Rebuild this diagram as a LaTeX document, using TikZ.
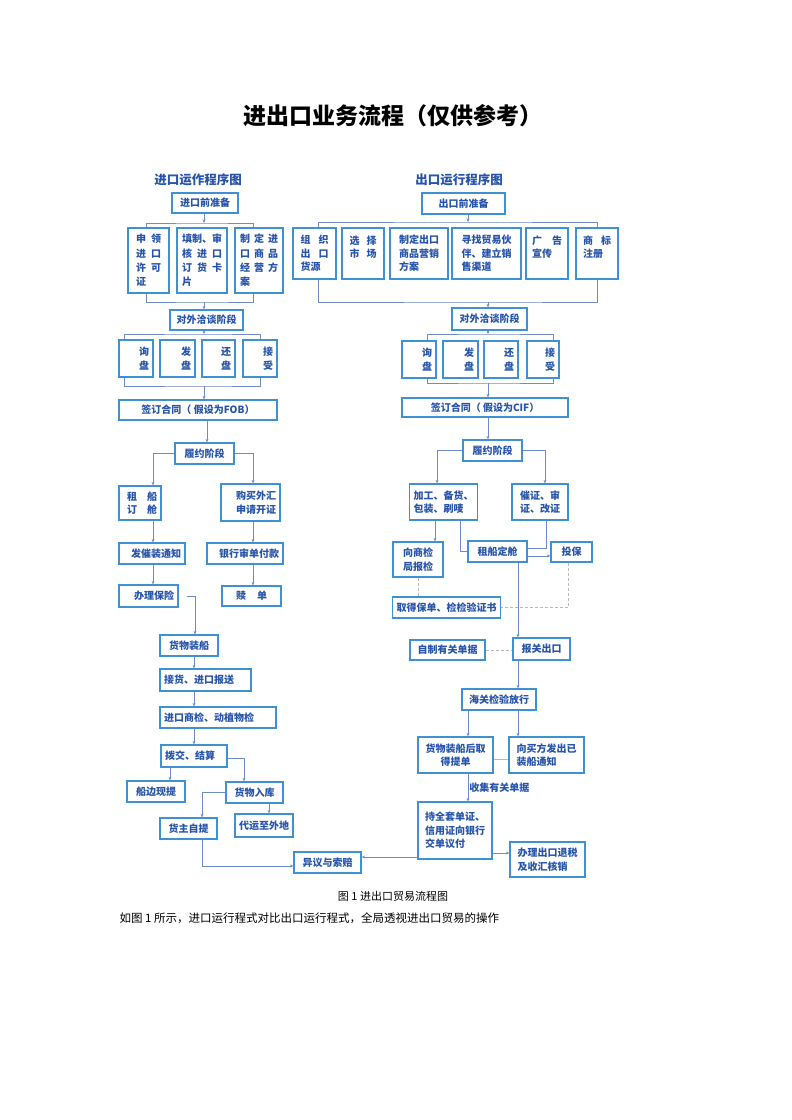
\documentclass[tikz,border=0pt]{standalone}
\usepackage{fontspec}
\setmainfont{Noto Sans CJK SC}
\usetikzlibrary{arrows.meta}
\definecolor{boxblue}{RGB}{62,146,212}
\definecolor{txtblue}{RGB}{38,84,170}
\definecolor{lineblue}{RGB}{110,140,200}
\definecolor{dashgray}{RGB}{185,185,185}
\begin{document}
\begin{tikzpicture}[x=1pt, y=-1pt,
    box/.style={draw=boxblue, line width=1.3pt, fill=white, text=txtblue, inner xsep=4pt, inner ysep=1pt, font=\fontsize{10}{13.5}\selectfont\bfseries},
    tall/.style={font=\fontsize{10}{14.3}\selectfont\bfseries},
    conn/.style={draw=lineblue, line width=0.7pt},
    arr/.style={conn, -{Stealth[length=3.5pt, width=3pt]}},
    dsh/.style={draw=dashgray, line width=0.7pt, dash pattern=on 3pt off 2pt},
    head/.style={text=txtblue, font=\fontsize{12.5}{15}\selectfont\bfseries},
    lbl/.style={text=txtblue, inner sep=1pt, font=\fontsize{10}{12}\selectfont\bfseries}]
    \fill[white] (0,0) rectangle (792,1120);
    \useasboundingbox (0,0) rectangle (792,1120);
    \node[font=\fontsize{23}{28}\selectfont\bfseries] (title) at (392.5,116) {进出口业务流程（仅供参考）};
    % left: import
    \node[head] (lhead) at (198,180) {进口运作程序图};
    \node[box, minimum width=66, minimum height=20] (ljqzb) at (205,203) {进口前准备};
    \node[box, tall, minimum width=41, minimum height=65, align=left] (lsq) at (148.5,260.5) {申\hspace{5pt}领\\进\hspace{5pt}口\\许\hspace{5pt}可\\证};
    \node[box, tall, minimum width=50, minimum height=65, align=left] (ltz) at (202,260.5) {填制、审\\核\hspace{5pt}进\hspace{5pt}口\\订\hspace{5pt}货\hspace{5pt}卡\\片};
    \node[box, tall, minimum width=48, minimum height=65, align=left] (lzd) at (259,260.5) {制\hspace{4pt}定\hspace{4pt}进\\口\hspace{4pt}商\hspace{4pt}品\\经\hspace{4pt}营\hspace{4pt}方\\案};
    \node[box, minimum width=73, minimum height=20] (lwt) at (206.5,320) {对外洽谈阶段};
    \node[box, minimum height=37, text width=26, align=right] (lxp) at (136,358.5) {询\\盘};
    \node[box, minimum height=37, text width=27, align=right] (lfp) at (177.5,358.5) {发\\盘};
    \node[box, minimum height=37, text width=25, align=right] (lhp) at (218.5,358.5) {还\\盘};
    \node[box, minimum height=37, text width=26, align=right] (ljs) at (260,358.5) {接\\受};
    \node[box, minimum width=158, minimum height=20] (lqd) at (198,410) {签订合同（ 假设为FOB）};
    \node[box, minimum width=59, minimum height=21] (lly) at (204.5,453.5) {履约阶段};
    \node[box, minimum height=34, text width=34, align=right] (lzc) at (140,503) {租\hspace{10pt}船\\订\hspace{10pt}舱};
    \node[box, minimum height=37, text width=51, align=right] (lgm) at (250.5,502.5) {购买外汇\\申请开证};
    \node[box, minimum height=21, text width=58, align=right] (lfc) at (152,553.5) {发催装通知};
    \node[box, minimum height=21, text width=68, align=right] (lyh) at (245,553.5) {银行审单付款};
    \node[box, minimum height=22, text width=51, align=right] (lbx) at (148.5,596) {办理保险};
    \node[box, minimum width=59, minimum height=20] (lsd) at (251.5,596) {赎\hspace{11pt}单};
    \node[box, minimum width=58, minimum height=21] (lzy) at (189,645.5) {货物装船};
    \node[box, minimum height=22, text width=83, align=left] (ljh) at (205.5,680) {接货、进口报送};
    \node[box, minimum height=21, text width=108, align=left] (ljy) at (218,717.5) {进口商检、动植物检};
    \node[box, minimum height=22, text width=58, align=left] (lbj) at (194,756) {拨交、结算};
    \node[box, minimum width=58, minimum height=21] (lcb) at (156,791.5) {船边现提};
    \node[box, minimum width=57, minimum height=21] (lrk) at (254.5,792.5) {货物入库};
    \node[box, minimum width=57, minimum height=21] (lzt) at (188.5,828.5) {货主自提};
    \node[box, minimum width=58, minimum height=23] (ldy) at (264,825.5) {代运至外地};
    \node[box, minimum width=67, minimum height=21] (lyy) at (327.5,862.5) {异议与索赔};
    % right: export
    \node[head] (rhead) at (459,180) {出口运行程序图};
    \node[box, minimum width=83, minimum height=21] (rjqzb) at (463.5,203.5) {出口前准备};
    \node[box, minimum width=43, minimum height=51, align=left] (rzz) at (314.5,253.5) {组\hspace{8pt}织\\出\hspace{8pt}口\\货源};
    \node[box, minimum width=42, minimum height=51, align=left] (rxz) at (363,253.5) {选\hspace{7pt}择\\市\hspace{7pt}场\\\mbox{}};
    \node[box, minimum width=58, minimum height=51, align=left] (rzd) at (419,253.5) {制定出口\\商品营销\\方案};
    \node[box, minimum width=69, minimum height=51, align=left] (rxh) at (486.5,253.5) {寻找贸易伙\\伴、建立销\\售渠道};
    \node[box, minimum width=42, minimum height=51, align=left] (rgg) at (547,253.5) {广\hspace{10pt}告\\宣传\\\mbox{}};
    \node[box, minimum width=42, minimum height=51, align=left] (rsb) at (597,253.5) {商\hspace{8pt}标\\注册\\\mbox{}};
    \node[box, minimum width=75, minimum height=22] (rwt) at (489.5,319) {对外洽谈阶段};
    \node[box, minimum height=37, text width=26, align=right] (rxp) at (419,359.5) {询\\盘};
    \node[box, minimum height=37, text width=27, align=right] (rfp) at (460.5,359.5) {发\\盘};
    \node[box, minimum height=37, text width=26, align=right] (rhp) at (501,359.5) {还\\盘};
    \node[box, minimum height=37, text width=24, align=right] (rjs) at (543,359.5) {接\\受};
    \node[box, minimum width=166, minimum height=19] (rqd) at (485,407.5) {签订合同（ 假设为CIF）};
    \node[box, minimum width=59, minimum height=21] (rly) at (492.5,450.5) {履约阶段};
    \node[box, minimum width=67, minimum height=36, align=left] (rjg) at (443.5,502) {加工、备货、\\包装、刷唛};
    \node[box, minimum width=56, minimum height=36, align=left] (rcz) at (540,502) {催证、审\\证、改证};
    \node[box, minimum width=50, minimum height=35, align=center] (rsj) at (418,559.5) {向商检\\局报检};
    \node[box, minimum width=59, minimum height=21] (rzc) at (497.5,551.5) {租船定舱};
    \node[box, minimum width=41, minimum height=20] (rtb) at (571.5,552) {投保};
    \node[box, minimum width=107, minimum height=21] (rqb) at (446.5,607.5) {取得保单、检检验证书};
    \node[box, minimum width=57, minimum height=22] (rbg) at (541.5,649) {报关出口};
    \node[box, minimum width=75, minimum height=20] (rzj) at (447.5,650) {自制有关单据};
    \node[box, minimum width=74, minimum height=21] (rhg) at (499,699.5) {海关检验放行};
    \node[box, minimum width=75, minimum height=36, align=center] (rth) at (455.5,755) {货物装船后取\\得提单};
    \node[box, minimum width=75, minimum height=36, align=left] (rtz) at (546.5,755) {向买方发出已\\装船通知};
    \node[box, minimum width=74, minimum height=57, align=left] (rcy) at (455,830.5) {持全套单证、\\信用证向银行\\交单议付};
    \node[box, minimum width=75, minimum height=35, align=left] (rts) at (547.5,859.5) {办理出口退税\\及收汇核销};
    \node[font=\fontsize{11}{13}\selectfont] (cap) at (393,896) {图 1 进出口贸易流程图};
    \node[anchor=west, font=\fontsize{11.5}{14}\selectfont] (txt) at (116,918) {如图 1 所示，进口运行程式对比出口运行程式，全局透视进出口贸易的操作};
    % left connectors
    \coordinate (lb1) at (204,223);
    \coordinate (lb2) at (204,302);
    \coordinate (lb3) at (204,334);
    \coordinate (lb4) at (204,386);
    \draw[arr] (ljqzb.south -| lb1) -- (lb1);
    \draw[conn] ([xshift=-2.5]lsq.north) |- (lb1) -| ([xshift=-6]lzd.north);
    \draw[conn] ([xshift=-2.5]lsq.south) |- (lb2) -| ([xshift=-6]lzd.south);
    \draw[arr] (lb2) -- (lb2 |- lwt.north);
    \draw[arr] (lwt.south -| lb3) -- (lb3);
    \draw[conn] ([xshift=-12]lxp.north) |- (lb3) -| (ljs.north);
    \draw[conn] ([xshift=-12]lxp.south) |- (lb4) -| (ljs.south);
    \draw[arr] (lb4) -- (lb4 |- lqd.north);
    \draw[arr] ([xshift=9]lqd.south) -- ([xshift=2.5]lly.north);
    \draw[arr] (lly.west) -| ([xshift=13]lzc.north);
    \draw[arr] (lly.east) -| ([xshift=2.5]lgm.north);
    \draw[arr] ([xshift=13]lzc.south) -- ([xshift=1]lfc.north);
    \draw[arr] ([xshift=2.5]lgm.south) -- ([xshift=8]lyh.north);
    \draw[arr] ([xshift=1]lfc.south) -- ([xshift=4.5]lbx.north);
    \draw[arr] ([xshift=8]lyh.south) -- ([xshift=1.5]lsd.north);
    \draw[arr] ([xshift=8]lbx.east) -| ([xshift=6]lzy.north);
    \draw[arr] ([xshift=5]lzy.south) -- ([xshift=-11.5]ljh.north);
    \draw[arr] ([xshift=-11.5]ljh.south) -- ([xshift=-24]ljy.north);
    \draw[arr] ([xshift=-24]ljy.south) -- (lbj.north);
    \draw[arr] ([xshift=-24]lbj.south) -- ([xshift=14]lcb.north);
    \draw[arr] ([yshift=-2]lbj.east) -| ([xshift=-10.5]lrk.north);
    \draw[arr] (lrk.west) -| ([xshift=13.5]lzt.north);
    \draw[arr] ([xshift=14.5]lrk.south) -- ([xshift=5]ldy.north);
    \draw[arr] ([xshift=13.5]lzt.south) |- ([yshift=-3.5]lyy.west);
    \draw[arr] ([yshift=-26.5]rcy.west) -- ([yshift=5.5]lyy.east);
    % right connectors
    \coordinate (rb1) at (468,222);
    \coordinate (rb2) at (488,302);
    \coordinate (rb3) at (488,334);
    \coordinate (rb4) at (488,383);
    \draw[arr] (rjqzb.south -| rb1) -- (rb1);
    \draw[conn] ([xshift=3.5]rzz.north) |- (rb1) -| (rsb.north);
    \draw[conn] ([xshift=3.5]rzz.south) |- (rb2) -| (rsb.south);
    \draw[arr] (rb2) -- (rb2 |- rwt.north);
    \draw[arr] (rwt.south -| rb3) -- (rb3);
    \draw[conn] ([xshift=8]rxp.north) |- (rb3) -| ([xshift=10]rjs.north);
    \draw[conn] ([xshift=8]rxp.south) |- (rb4) -| ([xshift=10]rjs.south);
    \draw[arr] (rb4) -- (rb4 |- rqd.north);
    \draw[arr] ([xshift=3]rqd.south) -- ([xshift=-4.5]rly.north);
    \draw[arr] (rly.west) -| ([xshift=-6.5]rjg.north);
    \draw[arr] (rly.east) -| ([xshift=5]rcz.north);
    \draw[arr] ([xshift=-8.5]rjg.south) -- ([xshift=17]rsj.north);
    \draw[conn] ([xshift=16.5]rjg.south) |- (rzc.west);
    \draw[conn] ([xshift=6]rcz.south) |- ([yshift=3.5]rzc.east);
    \draw[arr] ([yshift=-4.5]rzc.east) -- ([yshift=-4]rtb.west);
    \draw[dsh] (rsj.south) -- ([xshift=-28.5]rqb.north);
    \draw[dsh] ([xshift=-3.5]rtb.south) |- (rqb.east);
    \draw[arr] ([xshift=20.5]rzc.south) -- ([xshift=-23.5]rbg.north);
    \draw[dsh] (rzj.east) -- ([yshift=-1]rbg.west);
    \draw[arr] ([xshift=-23.5]rbg.south) -- ([xshift=19]rhg.north);
    \draw[arr] ([xshift=-31]rhg.south) -- ([xshift=12.5]rth.north);
    \draw[arr] ([xshift=19]rhg.south) -- ([xshift=-28.5]rtz.north);
    \draw[conn, draw=dashgray] ([yshift=-4]rth.east) -- ([yshift=-4]rtz.west);
    \draw[arr] ([xshift=12.5]rth.south) -- node[lbl, anchor=west] (lsj) {收集有关单据} ([xshift=13]rcy.north);
    \draw[arr] ([yshift=-22.5]rcy.east) -- ([yshift=6.5]rts.west);
\end{tikzpicture}
\end{document}
